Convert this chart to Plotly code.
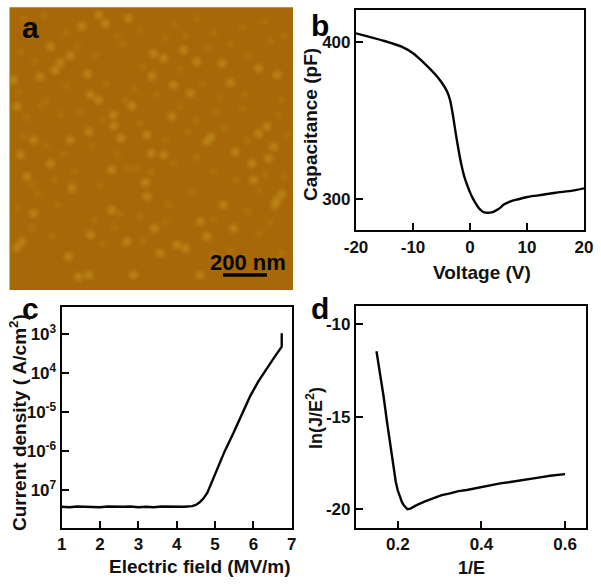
import plotly.graph_objects as go

# ---------- data ----------
# panel a: grains, in % of the scan width / height (y from the top)
bright_x = [31.6,33.8,42,25.5,14.4,21.4,17.9,16.1,10.8,27.5,31.4,28.5,50.8,54.4,61.4,50.2,57.9,75,66.1,87.9,94.4,77.9,63.8,36.7,39.3,50,43.2,36.7,69.6,71,79.6,48.5,54.4,57.3,90.8,87.9,93.2,91.4,85.5,86.1,94.4,75.5,67.3,51.1,47.9,48.5,36.1,36.1,22,8.5,4.4,2.6,28.5,20.8,27.9,24.4,43.8,41.4,67.3,62,59,53.2,69.6,79,14.4,6.1,2.6,1.4,21.4,27.9,8.5,3.8,93.5,96]
bright_y = [2.7,5.7,3.9,6.6,13.9,17.2,19.6,22.2,24.5,23.6,32.8,31,16.3,18,15.1,24.3,27.5,19.8,19.2,21.6,23.9,26.6,30.4,42,46.3,51.7,34.9,38.1,47.5,45.8,51.1,45.2,52.2,38.7,42.2,44.6,49.3,53.4,55.2,61.1,68.2,69.9,75.8,78.2,62,67,57.5,71.7,64,72.9,82.9,85,80.5,88.2,94.7,95.3,94.7,82.9,94.7,85.3,84,87,81.1,78.2,55.2,59.9,35.1,25.7,46.9,44,46.9,52.2,70,66]
dim_x = [5,12,20,38,46,58,66,72,82,90,97,4,9,24,30,40,47,55,62,70,78,84,92,3,13,20,34,44,52,60,68,74,83,96,6,11,18,25,33,41,46,60,66,73,82,95,5,13,19,29,38,45,55,63,76,84,90,98,8,16,23,32,42,50,58,66,72,80,88,3,10,17,30,39,46,56,64,72,84,92,97,8,15,33,37,47,55,72,78,88,96]
dim_y = [4,3,9,10,8,6,4,9,7,5,10,16,19,14,17,13,21,11,10,14,13,17,12,30,33,28,27,29,31,22,27,32,31,33,39,35,38,37,40,33,41,35,40,37,36,38,46,49,52,49,52,57,47,44,43,47,59,45,63,61,58,63,57,58,55,53,58,61,65,71,66,70,75,73,74,70,65,75,72,76,60,78,81,84,78,83,76,88,86,80,87]

# panel b
voltage = [-20,-15,-12,-10,-8,-6,-5,-4,-3.5,-3,-2.5,-2,-1.5,-1,-0.5,0,0.5,1,1.5,2,2.5,3,4,5,6,7,8,10,12,15,18,20]
capacitance = [405.3,400.4,396.8,392.6,386.2,378.8,374.2,368.2,362.9,353.4,341.7,331,321.6,314.2,308.9,304.2,300.4,297.2,294.5,292.6,291.5,291.3,291.7,293.6,296.6,298.3,299.4,301.3,302.3,304,305.3,306.8]

# panel c
field = [1,1.2,1.4,1.6,1.8,2,2.2,2.4,2.6,2.8,3,3.2,3.4,3.6,3.8,4,4.2,4.4,4.5,4.6,4.7,4.8,4.9,5.04,5.25,5.48,5.7,5.91,6.13,6.35,6.55,6.74,6.74]
current = [3.7e-8,3.6e-8,3.75e-8,3.65e-8,3.7e-8,3.6e-8,3.75e-8,3.65e-8,3.7e-8,3.75e-8,3.6e-8,3.7e-8,3.6e-8,3.75e-8,3.7e-8,3.65e-8,3.7e-8,3.85e-8,4.1e-8,4.8e-8,6.1e-8,8.5e-8,1.45e-7,3.2e-7,9.8e-7,2.9e-6,8.6e-6,2.5e-5,6.2e-5,1.35e-4,2.6e-4,4.8e-4,1.07e-3]

# panel d
inv_e = [.149,.158,.166,.174,.182,.19,.195,.2,.206,.21,.214,.218,.223,.23,.245,.265,.285,.305,.325,.345,.365,.385,.405,.425,.445,.465,.485,.505,.524,.544,.564,.58,.6]
ln_je2 = [-11.45,-12.63,-13.9,-15.25,-16.6,-17.9,-18.5,-19,-19.42,-19.62,-19.78,-19.9,-20,-19.97,-19.78,-19.58,-19.42,-19.24,-19.14,-19.02,-18.96,-18.86,-18.78,-18.68,-18.6,-18.54,-18.46,-18.38,-18.33,-18.26,-18.19,-18.14,-18.1]

# tick labels
b_xticks, b_xtext = [-20,-10,0,10,20], ["-20","-10","0","10","20"]
b_yticks, b_ytext = [300,400], ["300","400"]
c_xticks = [1,2,3,4,5,6,7]
c_yticks = [1e-3,1e-4,1e-5,1e-6,1e-7]
c_ytext = ["10<sup>3</sup>","10<sup>4</sup>","10<sup>-5</sup>","10<sup>-6</sup>","10<sup>7</sup>"]
d_xticks, d_xtext = [0.2,0.4,0.6], ["0.2","0.4","0.6"]
d_yticks, d_ytext = [-10,-15,-20], ["-10","-15","-20"]

# ---------- figure ----------
W, H = 601, 584
FAMILY = "Liberation Sans, Arial, sans-serif"
INK = "#111111"
def dx(a, b): return [a / W, b / W]
def dy(top, bottom): return [1 - bottom / H, 1 - top / H]
def f(size): return dict(family=FAMILY, size=size, color=INK, weight="bold")

fig = go.Figure()
line = dict(color="#050505", width=2.4)
fig.add_trace(go.Scatter(x=dim_x, y=dim_y, mode="markers", xaxis="x", yaxis="y", hoverinfo="skip",
    marker=dict(size=13, color="rgba(190,125,20,0)", line_width=0,
                gradient=dict(type="radial", color="rgba(190,125,20,0.4)"))))
fig.add_trace(go.Scatter(x=bright_x, y=bright_y, mode="markers", xaxis="x", yaxis="y", hoverinfo="skip",
    marker=dict(size=14, color="rgba(196,145,30,0)", line_width=0,
                gradient=dict(type="radial", color="rgba(196,145,30,0.7)"))))
fig.add_trace(go.Scatter(x=voltage, y=capacitance, mode="lines", line=dict(shape="spline", smoothing=0.6, **line), xaxis="x2", yaxis="y2"))
fig.add_trace(go.Scatter(x=field, y=current, mode="lines", line=line, xaxis="x3", yaxis="y3"))
fig.add_trace(go.Scatter(x=inv_e, y=ln_je2, mode="lines", line=line, xaxis="x4", yaxis="y4"))

frame = dict(showline=True, linecolor="#050505", linewidth=2.2, mirror=True, showgrid=False, zeroline=False, automargin=False,
             ticks="inside", ticklen=7, tickwidth=2, tickcolor="#050505", tickfont=f(17))

fig.update_layout(
    width=W, height=H, margin=dict(l=0, r=0, t=0, b=0), showlegend=False,
    paper_bgcolor="white", plot_bgcolor="white",
    xaxis=dict(domain=dx(9.5, 293), range=[0, 100], visible=False, automargin=False),
    yaxis=dict(domain=dy(7.3, 290), range=[100, 0], visible=False, automargin=False),
    xaxis2=dict(frame, domain=dx(356, 584), range=[-20, 20], tickvals=b_xticks, ticktext=b_xtext, anchor="y2"),
    yaxis2=dict(frame, domain=dy(10, 230), range=[280.3, 420.1], tickvals=b_yticks, ticktext=b_ytext, anchor="x2"),
    xaxis3=dict(frame, domain=dx(61.7, 291.7), range=[1, 7], tickvals=c_xticks, ticktext=[str(t) for t in c_xticks], anchor="y3"),
    yaxis3=dict(frame, domain=dy(306.7, 527.7), type="log", range=[-7.97, -2.29], tickvals=c_yticks, ticktext=c_ytext, anchor="x3"),
    xaxis4=dict(frame, domain=dx(356, 586), range=[0.1, 0.65], tickvals=d_xticks, ticktext=d_xtext, anchor="y4"),
    yaxis4=dict(frame, domain=dy(306, 527.7), range=[-21, -9], tickvals=d_yticks, ticktext=d_ytext, anchor="x4"),
)
# panel a ground colour and 200 nm scale bar
fig.add_shape(type="rect", xref="x domain", yref="y domain", x0=0, x1=1, y0=0, y1=1, fillcolor="#A66808", line_width=0, layer="below")
fig.add_shape(type="line", xref="x", yref="y", x0=75.3, x1=90.8, y0=94.7, y1=94.7, line=dict(color="#050505", width=3.5))
fig.add_annotation(xref="x", yref="y", x=84, y=90.1, text="200 nm", showarrow=False, font=dict(f(22), color="#050505"))

for letter, px, py in [("a", 30, 27), ("b", 320, 26), ("c", 30, 309), ("d", 320, 309)]:
    fig.add_annotation(xref="paper", yref="paper", x=px / W, y=1 - py / H, xanchor="center", yanchor="middle",
                       text=letter, showarrow=False, font=dict(f(30), color="#050505"))

# axis titles
titles = [("Voltage (V)", 481.7, 272, 0, 19), ("Capacitance (pF)", 310, 125, -90, 19),
          ("Electric field (MV/m)", 199.7, 566.7, 0, 19), ("Current density ( A/cm<sup>2</sup>)", 18, 423, -90, 19),
          ("1/E", 471.7, 568, 0, 18), ("ln(J/E<sup>2</sup>)", 314, 418, -90, 18)]
for text, px, py, angle, size in titles:
    fig.add_annotation(xref="paper", yref="paper", x=px / W, y=1 - py / H, xanchor="center", yanchor="middle",
                       text=text, textangle=angle, showarrow=False, font=f(size))

fig.write_html("out.html", config={"displayModeBar": False}, post_script="document.body.style.margin='0';")
